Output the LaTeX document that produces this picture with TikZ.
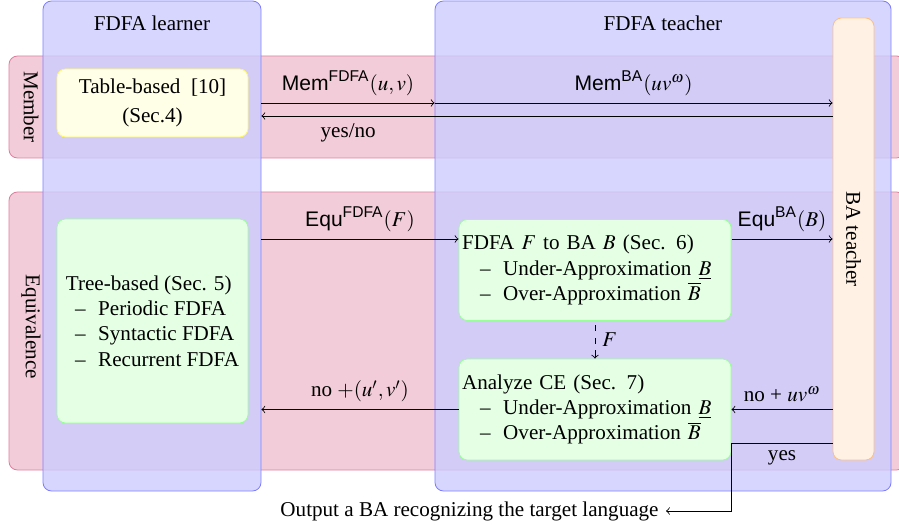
\documentclass[tikz,border=0pt]{standalone}
\usepackage{amsmath}
\usepackage{mathptmx}
\usepackage{fontspec}
\setmainfont{Liberation Serif}
\setsansfont{Liberation Sans}
\usepackage{tikz}

\newdimen\pxu
\pxu=0.474pt

\begin{document}
\begin{tikzpicture}
            [x=0.474pt,y=-0.474pt,
             band/.style={draw=purple!50,fill=purple!20,rounded corners=4pt},
             party/.style={draw=blue!50,fill=blue!20,fill opacity=0.8,rounded corners=4pt},
             algo/.style={draw=green!40,fill=green!10,rounded corners=4pt},
             item/.style={align=left,text width=126pt,inner xsep=1.5pt,minimum height=101\pxu}]
            \useasboundingbox (0,0) rectangle (899,527);
            \clip (0,0) rectangle (899,527);

            % phases
            \node[band,minimum width=896\pxu,minimum height=102\pxu] (member) at (457,107) {};
            \node[band,minimum width=896\pxu,minimum height=278\pxu] (equiv) at (457,331) {};
            \node[rotate=-90] (memberlabel) at (31,107) {Member};
            \node[rotate=-90] (equivlabel) at (31,327) {Equivalence};

            % parties
            \node[party,minimum width=218\pxu,minimum height=490\pxu] (learner) at (152,246) {};
            \node[party,minimum width=456\pxu,minimum height=490\pxu] (teacher) at (663,246) {};
            \node (learnertitle) at (152,23) {FDFA learner};
            \node (teachertitle) at (663,23) {FDFA teacher};

            \node[draw=yellow!60,fill=yellow!10,rounded corners=4pt,align=center,
                  minimum width=191\pxu,minimum height=68\pxu] (table) at (152.5,103)
                 {Table-based \ [10]\\[1.5pt] (Sec.4)};
            \node[algo,align=left,minimum width=191\pxu,minimum height=204\pxu] (tree) at (152.5,321)
                 {Tree-based (Sec. 5)\\
                  \hspace*{4.3pt}--\hspace*{6pt}Periodic FDFA\\
                  \hspace*{4.3pt}--\hspace*{6pt}Syntactic FDFA\\
                  \hspace*{4.3pt}--\hspace*{6pt}Recurrent FDFA};
            \node[algo,item] (toba) at (595,270)
                 {FDFA $F$ to BA $B$ (Sec. 6)\\
                  \hspace*{8.5pt}--\hspace*{6pt}Under-Approximation $\underline{B}$\\
                  \hspace*{8.5pt}--\hspace*{6pt}Over-Approximation $\overline{B}$};
            \node[algo,item] (analyze) at (595,409.5)
                 {Analyze CE (Sec. 7)\\
                  \hspace*{8.5pt}--\hspace*{6pt}Under-Approximation $\underline{B}$\\
                  \hspace*{8.5pt}--\hspace*{6pt}Over-Approximation $\overline{B}$};
            \node[draw=orange!50,fill=orange!10,rounded corners=4pt,
                  minimum width=41\pxu,minimum height=442\pxu] (bateacher) at (853.5,239) {};
            \node[rotate=-90] (batitle) at (bateacher) {BA teacher};
            \node[anchor=east] (output) at (666,511) {Output a BA recognizing the target language};

            % queries
            \coordinate (ret) at (0,116);
            \coordinate (equ) at (0,239);
            \coordinate (yes) at (0,443);
            \path [->] (table -| learner.east) edge node[above] {$\textsf{Mem}^{\textsf{FDFA}}(u,v)$} (table -| teacher.west);
            \path [->] (table -| teacher.west) edge node[above] {$\textsf{Mem}^{\textsf{BA}}(uv^{\omega})$} (table -| bateacher.west);
            \path [->] (ret -| bateacher.west) edge node[below,pos=0.848] {yes/no} (ret -| learner.east);
            \path [->] (equ -| learner.east) edge node[above] {$\textsf{Equ}^{\textsf{FDFA}}(F)$} (equ -| toba.west);
            \path [->] (equ -| toba.east) edge node[above] {$\textsf{Equ}^{\textsf{BA}}(B)$} (equ -| bateacher.west);
            \path [->,dashed] (toba) edge[shorten <=2pt] node[right] {$F$} (analyze);
            \path [->] (analyze -| bateacher.west) edge node[above] {no + $uv^{\omega}$} (analyze.east);
            \path [->] (analyze.west) edge node[above] {no $+(u',v')$} (analyze -| learner.east);
            \draw [->] (yes -| bateacher.west) -- node[below] {yes} (yes -| analyze.east) |- (output);
        \end{tikzpicture}
\end{document}
